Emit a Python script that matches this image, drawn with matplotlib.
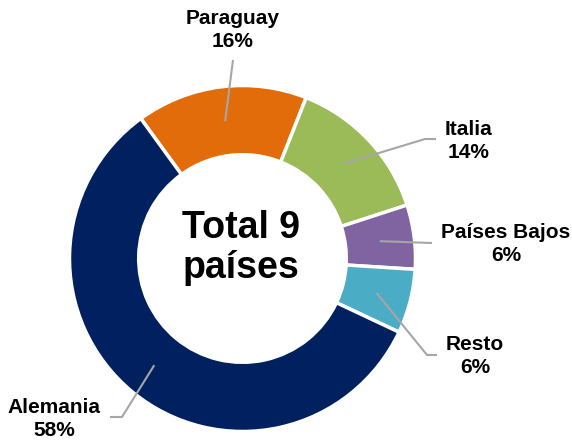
import matplotlib
matplotlib.use("Agg")
import matplotlib.pyplot as plt
import numpy as np

plt.rcParams['font.family'] = ['Liberation Sans', 'DejaVu Sans']

# datos: participacion por pais (%)
paises = ['Paraguay', 'Italia', 'Países Bajos', 'Resto', 'Alemania']
valores = [16, 14, 6, 6, 58]
colores = ['#E36C0A', '#9BBB59', '#8064A2', '#4BACC6', '#002060']

# posicion del centro y radio en pixeles
W, H = 572, 440
cx, cy, R = 242.5, 258.5, 173.0

def px(x, y):
    return (x - cx) / R, (cy - y) / R

fig = plt.figure(figsize=(W / 100, H / 100), dpi=100)
ax = fig.add_axes([0, 0, 1, 1])

wedges, _ = ax.pie(valores, colors=colores, startangle=126, counterclock=False,
                   radius=1, wedgeprops=dict(width=0.4, edgecolor='white', linewidth=2.5))
ax.set_xlim(px(0, 0)[0], px(W, 0)[0])
ax.set_ylim(px(0, H)[1], px(0, 0)[1])
ax.axis('off')

# codo y fin de cada linea guia, y centro del texto (pixeles)
codos = [None, (425, 139), None, (427, 355), (122, 417)]
finales = [(233, 60), (436, 139), (432, 243), (437, 355), (110, 417)]
textos = [(233, 30), (469, 141), (506, 244), (475, 356), (54, 419)]

for w, nombre, v, codo, fin, txt in zip(wedges, paises, valores, codos, finales, textos):
    ang = np.deg2rad((w.theta1 + w.theta2) / 2)
    pts = [(0.8 * np.cos(ang), 0.8 * np.sin(ang))]
    if codo is not None:
        pts.append(px(*codo))
    pts.append(px(*fin))
    xs, ys = zip(*pts)
    ax.plot(xs, ys, color='#A6A6A6', lw=1.5, solid_capstyle='butt')
    tx, ty = px(*txt)
    ax.text(tx, ty, f'{nombre}\n{v}%', ha='center', va='center', fontsize=15,
            fontweight='bold', linespacing=1.25)

tx, ty = px(241, 248)
ax.text(tx, ty, 'Total 9\npaíses', ha='center', va='center', fontsize=27,
        fontweight='bold', linespacing=1.15)

fig.savefig('out.png', dpi=100)
